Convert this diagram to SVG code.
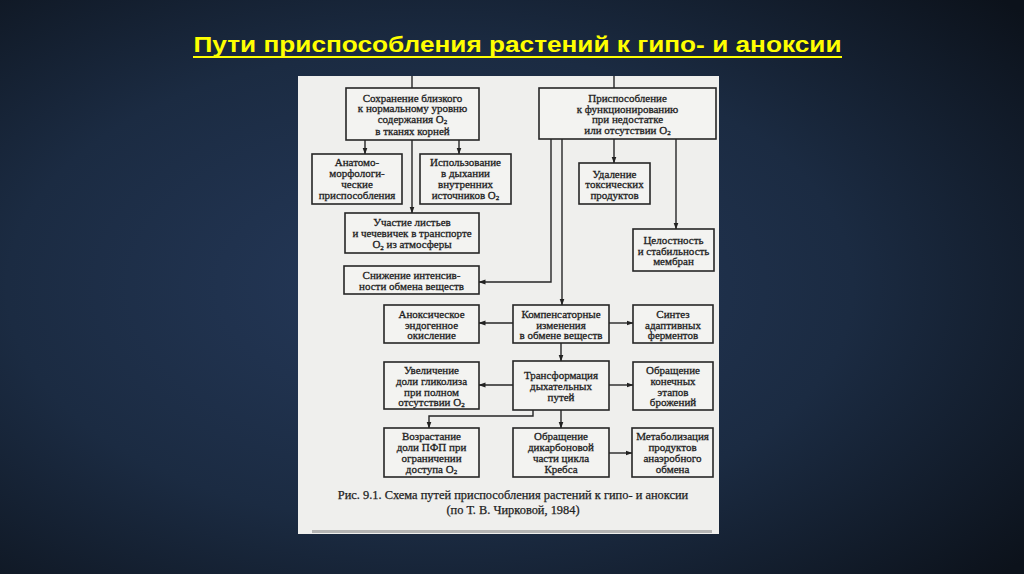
<svg xmlns="http://www.w3.org/2000/svg" width="1024" height="574" viewBox="0 0 1024 574">
<defs>
  <radialGradient id="bg" cx="0.42" cy="0.5" r="0.75">
    <stop offset="0" stop-color="#25395a"/>
    <stop offset="0.55" stop-color="#1b2b42"/>
    <stop offset="1" stop-color="#0c121b"/>
  </radialGradient>
  <marker id="ar" markerWidth="7" markerHeight="6" refX="6.5" refY="3" orient="auto" markerUnits="userSpaceOnUse">
    <path d="M0,0.5 L7,3 L0,5.5 z" fill="#222"/>
  </marker>
  <style>
    .box{fill:#f3f3f1;stroke:#262626;stroke-width:1.6}
    .t{font-family:"Liberation Serif","Times New Roman",serif;font-size:11px;fill:#1e1e1e;stroke:#1e1e1e;stroke-width:0.3;text-anchor:middle}
    .cap{font-family:"Liberation Serif","Times New Roman",serif;font-size:12.4px;fill:#1e1e1e;stroke:#1e1e1e;stroke-width:0.25;text-anchor:middle}
    .ln{fill:none;stroke:#262626;stroke-width:1.4}
    .sub{font-size:7px}
  </style>
</defs>
<rect x="0" y="0" width="1024" height="574" fill="url(#bg)"/>
<g id="title">
  <text x="517.5" y="52" font-family="Liberation Sans, Arial, sans-serif" font-weight="bold" font-size="22" fill="#ffff00" textLength="648" lengthAdjust="spacingAndGlyphs" text-anchor="middle">Пути приспособления растений к гипо- и аноксии</text>
  <rect x="193" y="56" width="649" height="2" fill="#ffff00"/>
</g>
<rect id="panel" x="298" y="76" width="421" height="458" fill="#efefed"/>
<rect x="312" y="530" width="400" height="3" fill="#7a7a7a" opacity="0.5"/>

<g id="connectors">
  <path class="ln" d="M412,76 V88"/>
  <path class="ln" d="M614,76 V88"/>
  <path class="ln" d="M365,140 V154" marker-end="url(#ar)"/>
  <path class="ln" d="M459,140 V154" marker-end="url(#ar)"/>
  <path class="ln" d="M412,140 V213" marker-end="url(#ar)"/>
  <path class="ln" d="M614,139 V163" marker-end="url(#ar)"/>
  <path class="ln" d="M676,139 V229" marker-end="url(#ar)"/>
  <path class="ln" d="M551,139 V282 H479" marker-end="url(#ar)"/>
  <path class="ln" d="M562,139 V305" marker-end="url(#ar)"/>
  <path class="ln" d="M513,323 H479" marker-end="url(#ar)"/>
  <path class="ln" d="M609,323 H633" marker-end="url(#ar)"/>
  <path class="ln" d="M561,343 V361" marker-end="url(#ar)"/>
  <path class="ln" d="M513,385 H479" marker-end="url(#ar)"/>
  <path class="ln" d="M609,385 H633" marker-end="url(#ar)"/>
  <path class="ln" d="M533,410 V416 H429 V428" marker-end="url(#ar)"/>
  <path class="ln" d="M561,410 V428" marker-end="url(#ar)"/>
  <path class="ln" d="M609,453 H632" marker-end="url(#ar)"/>
</g>

<g id="n-sohranenie">
  <rect class="box" x="346" y="88" width="133" height="52"/>
  <text class="t" x="412.5" y="101.5">Сохранение близкого</text>
  <text class="t" x="412.5" y="112">к нормальному уровню</text>
  <text class="t" x="412.5" y="122.5">содержания O<tspan class="sub" dy="1.5">2</tspan></text>
  <text class="t" x="412.5" y="135">в тканях корней</text>
</g>
<g id="n-prisposoblenie">
  <rect class="box" x="539" y="88" width="177" height="51"/>
  <text class="t" x="627.5" y="102">Приспособление</text>
  <text class="t" x="627.5" y="112.5">к функционированию</text>
  <text class="t" x="627.5" y="123">при недостатке</text>
  <text class="t" x="627.5" y="133.5">или отсутствии O<tspan class="sub" dy="1.5">2</tspan></text>
</g>
<g id="n-anatomo">
  <rect class="box" x="312" y="154" width="90" height="50"/>
  <text class="t" x="357" y="166">Анатомо-</text>
  <text class="t" x="357" y="177">морфологи-</text>
  <text class="t" x="357" y="188">ческие</text>
  <text class="t" x="357" y="199">приспособления</text>
</g>
<g id="n-ispolzovanie">
  <rect class="box" x="420" y="154" width="91" height="50"/>
  <text class="t" x="465.5" y="166">Использование</text>
  <text class="t" x="465.5" y="177">в дыхании</text>
  <text class="t" x="465.5" y="188">внутренних</text>
  <text class="t" x="465.5" y="198.5">источников O<tspan class="sub" dy="1.5">2</tspan></text>
</g>
<g id="n-uchastie">
  <rect class="box" x="345" y="213" width="134" height="40"/>
  <text class="t" x="412" y="226">Участие листьев</text>
  <text class="t" x="412" y="237">и чечевичек в транспорте</text>
  <text class="t" x="412" y="248">O<tspan class="sub" dy="1.5">2</tspan><tspan dy="-1.5"> из атмосферы</tspan></text>
</g>
<g id="n-snizhenie">
  <rect class="box" x="344" y="266" width="135" height="28"/>
  <text class="t" x="411.5" y="278.5">Снижение интенсив-</text>
  <text class="t" x="411.5" y="289.5">ности обмена веществ</text>
</g>
<g id="n-udalenie">
  <rect class="box" x="579" y="163" width="71" height="41"/>
  <text class="t" x="614.5" y="177.5">Удаление</text>
  <text class="t" x="614.5" y="188">токсических</text>
  <text class="t" x="614.5" y="198.5">продуктов</text>
</g>
<g id="n-celostnost">
  <rect class="box" x="633" y="229" width="81" height="42"/>
  <text class="t" x="673.5" y="243.5">Целостность</text>
  <text class="t" x="673.5" y="254.5">и стабильность</text>
  <text class="t" x="673.5" y="265">мембран</text>
</g>
<g id="n-anoksicheskoe">
  <rect class="box" x="384" y="305" width="95" height="38"/>
  <text class="t" x="431.5" y="317.5">Аноксическое</text>
  <text class="t" x="431.5" y="328.5">эндогенное</text>
  <text class="t" x="431.5" y="339">окисление</text>
</g>
<g id="n-kompensatornye">
  <rect class="box" x="513" y="305" width="96" height="38"/>
  <text class="t" x="561" y="317.5">Компенсаторные</text>
  <text class="t" x="561" y="328.5">изменения</text>
  <text class="t" x="561" y="339">в обмене веществ</text>
</g>
<g id="n-sintez">
  <rect class="box" x="633" y="305" width="80" height="38"/>
  <text class="t" x="673" y="317.5">Синтез</text>
  <text class="t" x="673" y="328.5">адаптивных</text>
  <text class="t" x="673" y="339">ферментов</text>
</g>
<g id="n-uvelichenie">
  <rect class="box" x="384" y="362" width="95" height="47"/>
  <text class="t" x="431.5" y="373.5">Увеличение</text>
  <text class="t" x="431.5" y="384.5">доли гликолиза</text>
  <text class="t" x="431.5" y="395.5">при полном</text>
  <text class="t" x="431.5" y="405.5">отсутствии O<tspan class="sub" dy="1.5">2</tspan></text>
</g>
<g id="n-transformaciya">
  <rect class="box" x="513" y="361" width="96" height="49"/>
  <text class="t" x="561" y="378.5">Трансформация</text>
  <text class="t" x="561" y="390">дыхательных</text>
  <text class="t" x="561" y="400.5">путей</text>
</g>
<g id="n-obrashchenie-konechnyh">
  <rect class="box" x="633" y="362" width="80" height="48"/>
  <text class="t" x="673" y="373.5">Обращение</text>
  <text class="t" x="673" y="384.5">конечных</text>
  <text class="t" x="673" y="395.5">этапов</text>
  <text class="t" x="673" y="406">брожений</text>
</g>
<g id="n-vozrastanie">
  <rect class="box" x="384" y="428" width="95" height="49"/>
  <text class="t" x="431.5" y="439.5">Возрастание</text>
  <text class="t" x="431.5" y="451">доли ПФП при</text>
  <text class="t" x="431.5" y="462">ограничении</text>
  <text class="t" x="431.5" y="472.5">доступа O<tspan class="sub" dy="1.5">2</tspan></text>
</g>
<g id="n-obrashchenie-dikarbonovoy">
  <rect class="box" x="513" y="428" width="96" height="49"/>
  <text class="t" x="561" y="439.5">Обращение</text>
  <text class="t" x="561" y="451">дикарбоновой</text>
  <text class="t" x="561" y="462">части цикла</text>
  <text class="t" x="561" y="473">Кребса</text>
</g>
<g id="n-metabolizaciya">
  <rect class="box" x="632" y="428" width="81" height="49"/>
  <text class="t" x="672.5" y="439.5">Метаболизация</text>
  <text class="t" x="672.5" y="451">продуктов</text>
  <text class="t" x="672.5" y="462">анаэробного</text>
  <text class="t" x="672.5" y="473">обмена</text>
</g>
<g id="caption">
  <text class="cap" x="513" y="499">Рис. 9.1. Схема путей приспособления растений к гипо- и аноксии</text>
  <text class="cap" x="513" y="514">(по Т. В. Чирковой, 1984)</text>
</g>
</svg>
